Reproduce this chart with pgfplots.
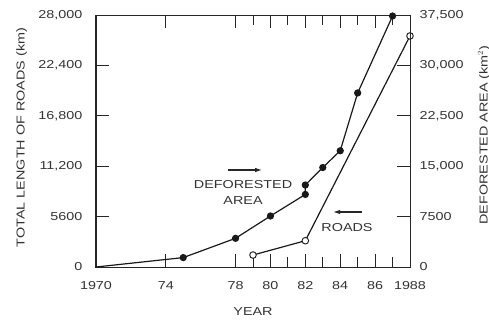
\documentclass[border=0pt]{standalone}
\usepackage{fontspec}
\setmainfont{Liberation Sans}[FakeStretch=1.25]
\usepackage{pgfplots}
\usepackage{pgfplotstable}
\pgfplotsset{compat=1.18}
\usetikzlibrary{arrows.meta}

\pgfplotstableread{
year area
1970 0
1975 1400
1978 4270
1980 7590
1982 10800
1982 12200
1983 14800
1984 17300
1985 25900
1987 37350
}\areatable
\pgfplotstableread{
year roads
1979 1330
1982 2920
1988 25670
}\roadtable

\begin{document}
\begin{tikzpicture}[font=\fontsize{11.5}{14}\selectfont]
\useasboundingbox (-96pt,-55pt) rectangle (393pt,267pt);
\pgfplotsset{common/.style={
  scale only axis, width=314pt, height=252pt,
  xmin=1970, xmax=1988, clip=false,
  scaled ticks=false,
  axis line style={black!85, line width=1pt},
  tick style={black!85, line width=0.9pt},
  major tick length=13pt,
  minor tick length=10pt,
  tick align=inside,
  every tick label/.append style={text=black!80},
  label style={text=black!80},
}}
\begin{axis}[common,
  ymin=0, ymax=28000,
  xtick={1970,1974,1978,1980,1982,1984,1986,1988},
  xticklabels={1970,74,78,80,82,84,86,1988},
  minor xtick={1979,1981,1983,1985,1987},
  xtick pos=both,
  ytick={0,5600,11200,16800,22400,28000},
  yticklabels={0,5600,{11,200},{16,800},{22,400},{28,000}},
  ytick pos=left,
  xticklabel style={yshift=-11pt},
  yticklabel style={xshift=-10pt},
  xlabel={YEAR},
  xlabel style={at={(axis description cs:0.5,-0.177)}, anchor=center},
  ylabel={TOTAL LENGTH OF ROADS (km)},
  ylabel style={at={(axis description cs:-0.237,0.514)}, anchor=center},
]
\addplot[black!90, line width=1.2pt, mark=*, mark size=3.3pt, mark options={fill=white, line width=0.9pt}] table[x=year, y=roads] {\roadtable};
\node[align=center, text=black!80, font=\fontsize{11.5}{16}\selectfont] at (axis cs:1978.43,8333) {DEFORESTED\\AREA};
\draw[black!85, line width=1.1pt, -{Latex[length=7pt,width=4.5pt]}] (axis cs:1977.57,10778) -- (axis cs:1979.52,10778);
\node[text=black!80] at (axis cs:1984.39,4333) {ROADS};
\draw[black!85, line width=1.1pt, -{Latex[length=7pt,width=4.5pt]}] (axis cs:1985.25,6111) -- (axis cs:1983.59,6111);
\end{axis}
\begin{axis}[common,
  ymin=0, ymax=37500,
  xtick=\empty,
  ytick={0,7500,15000,22500,30000,37500},
  yticklabels={0,7500,{15,000},{22,500},{30,000},{37,500}},
  ytick pos=right,
  yticklabel style={xshift=6pt},
  ylabel={DEFORESTED AREA (km$^{2}$)},
  ylabel style={at={(axis description cs:1.2357,0.524)}, anchor=center},
]
\addplot[black!90, line width=1.2pt, mark=*, mark size=3pt, mark indices={2,3,4,5,6,7,8,9,10}] table[x=year, y=area] {\areatable};
\end{axis}
\end{tikzpicture}
\end{document}
